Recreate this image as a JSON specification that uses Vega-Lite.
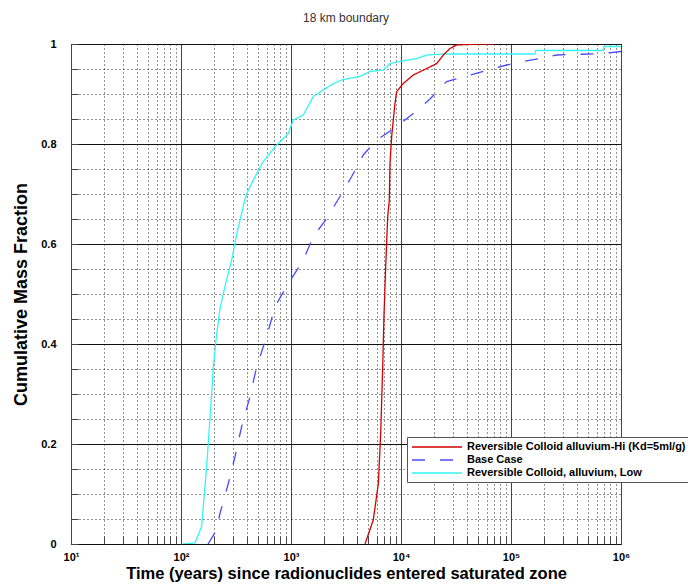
{
  "$schema": "https://vega.github.io/schema/vega-lite/v6.json",
  "width": 550,
  "height": 500,
  "autosize": "none",
  "padding": {"left": 71, "top": 44, "right": 67, "bottom": 40},
  "background": "white",
  "title": {"text": "18 km boundary", "font": "Liberation Sans", "fontSize": 12, "fontWeight": "normal", "color": "#333", "offset": 13},
  "config": {
    "view": {"stroke": "#222", "strokeWidth": 1},
    "font": "Liberation Sans"
  },
  "data": {"values": [
    {"s": "Reversible Colloid, alluvium, Low", "t": 104, "f": 0},
    {"s": "Reversible Colloid, alluvium, Low", "t": 134, "f": 0.002},
    {"s": "Reversible Colloid, alluvium, Low", "t": 154, "f": 0.035},
    {"s": "Reversible Colloid, alluvium, Low", "t": 171, "f": 0.155},
    {"s": "Reversible Colloid, alluvium, Low", "t": 184, "f": 0.255},
    {"s": "Reversible Colloid, alluvium, Low", "t": 197, "f": 0.355},
    {"s": "Reversible Colloid, alluvium, Low", "t": 211, "f": 0.42},
    {"s": "Reversible Colloid, alluvium, Low", "t": 226, "f": 0.47},
    {"s": "Reversible Colloid, alluvium, Low", "t": 251, "f": 0.515},
    {"s": "Reversible Colloid, alluvium, Low", "t": 289, "f": 0.568},
    {"s": "Reversible Colloid, alluvium, Low", "t": 321, "f": 0.62},
    {"s": "Reversible Colloid, alluvium, Low", "t": 382, "f": 0.69},
    {"s": "Reversible Colloid, alluvium, Low", "t": 409, "f": 0.708},
    {"s": "Reversible Colloid, alluvium, Low", "t": 488, "f": 0.741},
    {"s": "Reversible Colloid, alluvium, Low", "t": 560, "f": 0.765},
    {"s": "Reversible Colloid, alluvium, Low", "t": 741, "f": 0.798},
    {"s": "Reversible Colloid, alluvium, Low", "t": 945, "f": 0.821},
    {"s": "Reversible Colloid, alluvium, Low", "t": 1049, "f": 0.848},
    {"s": "Reversible Colloid, alluvium, Low", "t": 1294, "f": 0.858},
    {"s": "Reversible Colloid, alluvium, Low", "t": 1596, "f": 0.895},
    {"s": "Reversible Colloid, alluvium, Low", "t": 1968, "f": 0.908},
    {"s": "Reversible Colloid, alluvium, Low", "t": 2427, "f": 0.921},
    {"s": "Reversible Colloid, alluvium, Low", "t": 2987, "f": 0.929},
    {"s": "Reversible Colloid, alluvium, Low", "t": 4237, "f": 0.935},
    {"s": "Reversible Colloid, alluvium, Low", "t": 5224, "f": 0.945},
    {"s": "Reversible Colloid, alluvium, Low", "t": 6902, "f": 0.948},
    {"s": "Reversible Colloid, alluvium, Low", "t": 7943, "f": 0.961},
    {"s": "Reversible Colloid, alluvium, Low", "t": 9790, "f": 0.965},
    {"s": "Reversible Colloid, alluvium, Low", "t": 13900, "f": 0.971},
    {"s": "Reversible Colloid, alluvium, Low", "t": 17130, "f": 0.978},
    {"s": "Reversible Colloid, alluvium, Low", "t": 24270, "f": 0.98},
    {"s": "Reversible Colloid, alluvium, Low", "t": 165000, "f": 0.98},
    {"s": "Reversible Colloid, alluvium, Low", "t": 168000, "f": 0.987},
    {"s": "Reversible Colloid, alluvium, Low", "t": 685000, "f": 0.987},
    {"s": "Reversible Colloid, alluvium, Low", "t": 700000, "f": 0.995},
    {"s": "Reversible Colloid, alluvium, Low", "t": 1000000, "f": 0.995},

    {"s": "Base Case", "t": 176, "f": 0},
    {"s": "Base Case", "t": 211, "f": 0.028},
    {"s": "Base Case", "t": 226, "f": 0.061},
    {"s": "Base Case", "t": 269, "f": 0.121},
    {"s": "Base Case", "t": 310, "f": 0.175},
    {"s": "Base Case", "t": 356, "f": 0.235},
    {"s": "Base Case", "t": 424, "f": 0.295},
    {"s": "Base Case", "t": 488, "f": 0.355},
    {"s": "Base Case", "t": 601, "f": 0.415},
    {"s": "Base Case", "t": 716, "f": 0.475},
    {"s": "Base Case", "t": 945, "f": 0.521},
    {"s": "Base Case", "t": 1294, "f": 0.568},
    {"s": "Base Case", "t": 1596, "f": 0.615},
    {"s": "Base Case", "t": 2113, "f": 0.651},
    {"s": "Base Case", "t": 2787, "f": 0.695},
    {"s": "Base Case", "t": 3564, "f": 0.735},
    {"s": "Base Case", "t": 4540, "f": 0.778},
    {"s": "Base Case", "t": 6012, "f": 0.808},
    {"s": "Base Case", "t": 9140, "f": 0.835},
    {"s": "Base Case", "t": 12940, "f": 0.861},
    {"s": "Base Case", "t": 18360, "f": 0.89},
    {"s": "Base Case", "t": 26000, "f": 0.925},
    {"s": "Base Case", "t": 42370, "f": 0.938},
    {"s": "Base Case", "t": 60120, "f": 0.947},
    {"s": "Base Case", "t": 91410, "f": 0.958},
    {"s": "Base Case", "t": 129400, "f": 0.965},
    {"s": "Base Case", "t": 183600, "f": 0.971},
    {"s": "Base Case", "t": 260000, "f": 0.978},
    {"s": "Base Case", "t": 690000, "f": 0.981},
    {"s": "Base Case", "t": 1000000, "f": 0.985},

    {"s": "Reversible Colloid alluvium-Hi (Kd=5ml/g)", "t": 4710, "f": 0},
    {"s": "Reversible Colloid alluvium-Hi (Kd=5ml/g)", "t": 5598, "f": 0.048},
    {"s": "Reversible Colloid alluvium-Hi (Kd=5ml/g)", "t": 6223, "f": 0.121},
    {"s": "Reversible Colloid alluvium-Hi (Kd=5ml/g)", "t": 6535, "f": 0.221},
    {"s": "Reversible Colloid alluvium-Hi (Kd=5ml/g)", "t": 6823, "f": 0.355},
    {"s": "Reversible Colloid alluvium-Hi (Kd=5ml/g)", "t": 7000, "f": 0.455},
    {"s": "Reversible Colloid alluvium-Hi (Kd=5ml/g)", "t": 7260, "f": 0.555},
    {"s": "Reversible Colloid alluvium-Hi (Kd=5ml/g)", "t": 7570, "f": 0.655},
    {"s": "Reversible Colloid alluvium-Hi (Kd=5ml/g)", "t": 7830, "f": 0.688},
    {"s": "Reversible Colloid alluvium-Hi (Kd=5ml/g)", "t": 7943, "f": 0.761},
    {"s": "Reversible Colloid alluvium-Hi (Kd=5ml/g)", "t": 8225, "f": 0.815},
    {"s": "Reversible Colloid alluvium-Hi (Kd=5ml/g)", "t": 8510, "f": 0.848},
    {"s": "Reversible Colloid alluvium-Hi (Kd=5ml/g)", "t": 8815, "f": 0.881},
    {"s": "Reversible Colloid alluvium-Hi (Kd=5ml/g)", "t": 9140, "f": 0.905},
    {"s": "Reversible Colloid alluvium-Hi (Kd=5ml/g)", "t": 10490, "f": 0.921},
    {"s": "Reversible Colloid alluvium-Hi (Kd=5ml/g)", "t": 12940, "f": 0.938},
    {"s": "Reversible Colloid alluvium-Hi (Kd=5ml/g)", "t": 17130, "f": 0.951},
    {"s": "Reversible Colloid alluvium-Hi (Kd=5ml/g)", "t": 21130, "f": 0.961},
    {"s": "Reversible Colloid alluvium-Hi (Kd=5ml/g)", "t": 24270, "f": 0.978},
    {"s": "Reversible Colloid alluvium-Hi (Kd=5ml/g)", "t": 27870, "f": 0.991},
    {"s": "Reversible Colloid alluvium-Hi (Kd=5ml/g)", "t": 32070, "f": 0.998},
    {"s": "Reversible Colloid alluvium-Hi (Kd=5ml/g)", "t": 48760, "f": 1.0},
    {"s": "Reversible Colloid alluvium-Hi (Kd=5ml/g)", "t": 68550, "f": 1.0}
  ]},
  "mark": {"type": "line", "clip": true, "interpolate": "linear"},
  "encoding": {
    "x": {
      "field": "t", "type": "quantitative",
      "scale": {"type": "log", "domain": [10, 1000000], "nice": false},
      "axis": {
        "title": "Time (years) since radionuclides entered saturated zone",
        "titleFont": "Liberation Sans", "titleFontSize": 16.5, "titleFontWeight": "bold", "titleColor": "#000", "titlePadding": 3,
        "values": [10,20,30,40,50,60,70,80,90,100,200,300,400,500,600,700,800,900,1000,2000,3000,4000,5000,6000,7000,8000,9000,10000,20000,30000,40000,50000,60000,70000,80000,90000,100000,200000,300000,400000,500000,600000,700000,800000,900000,1000000],
        "labelExpr": "indexof([10,100,1000,10000,100000,1000000], datum.value) >= 0 ? '10' + ['¹','²','³','⁴','⁵','⁶'][round(log(datum.value)/LN10)-1] : ''",
        "labelFont": "Liberation Sans", "labelFontSize": 11, "labelFontWeight": "bold", "labelColor": "#000",
        "labelOverlap": false, "labelFlush": false, "labelPadding": 15,
        "domain": false,
        "ticks": true, "tickSize": -8, "tickColor": "#444", "tickWidth": 1,
        "grid": true,
        "gridColor": {"condition": {"test": "indexof([10,100,1000,10000,100000,1000000], datum.value) >= 0", "value": "#444"}, "value": "#222"},
        "gridDash": {"condition": {"test": "indexof([10,100,1000,10000,100000,1000000], datum.value) >= 0", "value": []}, "value": [1, 3]},
        "gridWidth": 1
      }
    },
    "y": {
      "field": "f", "type": "quantitative",
      "scale": {"domain": [0, 1], "nice": false, "zero": true},
      "axis": {
        "title": "Cumulative Mass Fraction",
        "titleFont": "Liberation Sans", "titleFontSize": 18, "titleFontWeight": "bold", "titleColor": "#000", "titlePadding": 10,
        "values": [0,0.05,0.1,0.15,0.2,0.25,0.3,0.35,0.4,0.45,0.5,0.55,0.6,0.65,0.7,0.75,0.8,0.85,0.9,0.95,1],
        "labelExpr": "abs(datum.value*5 - round(datum.value*5)) < 0.001 ? format(datum.value, '~g') : ''",
        "labelFont": "Liberation Sans", "labelFontSize": 11, "labelFontWeight": "bold", "labelColor": "#000",
        "labelOverlap": false, "labelFlush": false, "labelPadding": 22,
        "domain": false,
        "ticks": true, "tickSize": -7, "tickColor": "#444", "tickWidth": 1,
        "grid": true,
        "gridColor": {"condition": {"test": "abs(datum.value*5 - round(datum.value*5)) < 0.001", "value": "#111"}, "value": "#222"},
        "gridDash": {"condition": {"test": "abs(datum.value*5 - round(datum.value*5)) < 0.001", "value": []}, "value": [1, 3]},
        "gridWidth": 1
      }
    },
    "color": {
      "field": "s", "type": "nominal",
      "scale": {"domain": ["Reversible Colloid alluvium-Hi (Kd=5ml/g)", "Base Case", "Reversible Colloid, alluvium, Low"], "range": ["#d40000", "#4a4aff", "#33f5f5"]},
      "legend": {
        "title": null, "orient": "none", "legendX": 336, "legendY": 393,
        "fillColor": "white", "strokeColor": "#555", "padding": 4,
        "symbolType": "M-1,0H9", "symbolSize": 100,
        "labelFont": "Liberation Sans", "labelFontSize": 11, "labelFontWeight": "bold", "labelColor": "#000",
        "labelLimit": 400, "labelOffset": 44, "rowPadding": 2
      }
    },
    "strokeDash": {
      "field": "s", "type": "nominal",
      "scale": {"domain": ["Reversible Colloid alluvium-Hi (Kd=5ml/g)", "Base Case", "Reversible Colloid, alluvium, Low"], "range": [[1, 0], [13, 15], [1, 0]]},
      "legend": {
        "title": null, "orient": "none", "legendX": 336, "legendY": 393,
        "fillColor": "white", "strokeColor": "#555", "padding": 4,
        "symbolType": "M-1,0H9", "symbolSize": 100,
        "labelFont": "Liberation Sans", "labelFontSize": 11, "labelFontWeight": "bold", "labelColor": "#000",
        "labelLimit": 400, "labelOffset": 44, "rowPadding": 2
      }
    },
    "strokeWidth": {
      "field": "s", "type": "nominal",
      "scale": {"domain": ["Reversible Colloid alluvium-Hi (Kd=5ml/g)", "Base Case", "Reversible Colloid, alluvium, Low"], "range": [1.3, 1.3, 2.2]},
      "legend": {
        "title": null, "orient": "none", "legendX": 336, "legendY": 393,
        "fillColor": "white", "strokeColor": "#555", "padding": 4,
        "symbolType": "M-1,0H9", "symbolSize": 100,
        "labelFont": "Liberation Sans", "labelFontSize": 11, "labelFontWeight": "bold", "labelColor": "#000",
        "labelLimit": 400, "labelOffset": 44, "rowPadding": 2
      }
    },
    "order": {"field": "t", "type": "quantitative"}
  }
}
